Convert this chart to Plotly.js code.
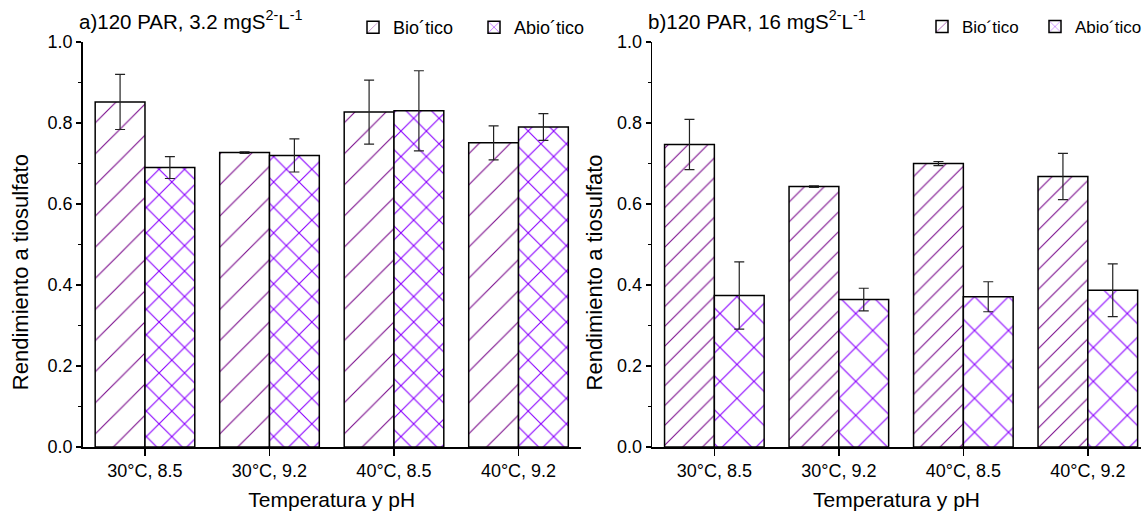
<!DOCTYPE html>
<html><head><meta charset="utf-8">
<script src="https://cdn.plot.ly/plotly-3.0.1.min.js"></script>
<style>html,body{margin:0;padding:0;background:#fff}#chart{width:1148px;height:514px}</style>
</head><body><div id="chart"></div>
<script>
const categories = ['30°C, 8.5', '30°C, 9.2', '40°C, 8.5', '40°C, 9.2'];
const seriesNames = ['Bio\u00B4tico', 'Abio\u00B4tico'];
const bioA = [0.852, 0.727, 0.827, 0.751];
const bioAErr = [0.068, 0.002, 0.079, 0.042];
const abioA = [0.690, 0.720, 0.830, 0.790];
const abioAErr = [0.027, 0.041, 0.099, 0.033];
const bioB = [0.747, 0.643, 0.700, 0.668];
const bioBErr = [0.062, 0.002, 0.005, 0.057];
const abioB = [0.374, 0.364, 0.371, 0.387];
const abioBErr = [0.083, 0.028, 0.037, 0.065];
const yTickVals = [0, 0.2, 0.4, 0.6, 0.8, 1.0];
const boundaryTicks = [-0.5, 0.5, 1.5, 2.5, 3.5];

const FONT = 'Liberation Sans, Arial, sans-serif';
const W = 1148, ML = 40, MT = 42, PH = 405;
const px = v => (v - ML) / (W - ML);
const py = v => (MT + PH - v) / PH;

function barTrace(y, err, name, shape, color, size, sol, xa, ya, leg) {
  return {
    type: 'bar', x: categories, y: y, name: name, xaxis: xa, yaxis: ya,
    legend: leg,
    marker: {
      color: 'white',
      line: {color: 'black', width: 1.5},
      pattern: {shape: shape, fgcolor: color, bgcolor: 'white', size: size, solidity: sol}
    },
    error_y: {type: 'data', array: err, visible: true, color: '#222', thickness: 1.2, width: 5},
    hoverinfo: 'x+y'
  };
}

const data = [
  barTrace(bioA, bioAErr, seriesNames[0], '/', '#7A0A8C', 22, 0.05, 'x', 'y', 'legend'),
  barTrace(abioA, abioAErr, seriesNames[1], 'x', '#8A00FF', 18, 0.12, 'x', 'y', 'legend'),
  barTrace(bioB, bioBErr, seriesNames[0], '/', '#7A0A8C', 14, 0.075, 'x2', 'y2', 'legend2'),
  barTrace(abioB, abioBErr, seriesNames[1], 'x', '#8A00FF', 24, 0.09, 'x2', 'y2', 'legend2')
];

const titleFont = {family: FONT, size: 21, color: 'black'};
const tickFont = {family: FONT, size: 18, color: 'black'};

function xAxis(anchor, domain, range) {
  return {
    type: 'category', categoryarray: categories, domain: domain, range: range,
    showline: true, linecolor: 'black', linewidth: 1.5,
    ticks: 'outside', ticklen: 7, tickwidth: 1.5, tickcolor: 'black',
    tickfont: tickFont, showgrid: false, zeroline: false, anchor: anchor, fixedrange: true,
    title: {text: 'Temperatura y pH', font: titleFont, standoff: 12}
  };
}
function minorAxis(over, anchor, domain, range) {
  return {
    type: 'linear', overlaying: over, domain: domain, range: range,
    tickmode: 'array', tickvals: boundaryTicks,
    ticks: 'outside', ticklen: 4, tickwidth: 1.5, tickcolor: 'black',
    showticklabels: false, showline: false, showgrid: false, zeroline: false,
    anchor: anchor, side: 'bottom', fixedrange: true
  };
}
function yAxis(anchor) {
  return {
    domain: [0, 1], range: [0, 1.0], anchor: anchor,
    tickmode: 'array', tickvals: yTickVals, tickformat: '.1f',
    showline: true, linecolor: 'black', linewidth: 1.5,
    ticks: 'outside', ticklen: 5, tickwidth: 1.5, tickcolor: 'black',
    minor: {ticks: 'outside', ticklen: 3, dtick: 0.1, tick0: 0, tickwidth: 1.5, tickcolor: 'black'},
    tickfont: tickFont, showgrid: false, zeroline: false, fixedrange: true
  };
}

const domA = [px(83), px(584.2)], domB = [px(656), 1];
const rangeA = [-0.5, 3.5], rangeB = [-0.5, 3.427];

const layout = {
  width: W, height: 514,
  margin: {l: ML, r: 0, t: MT, b: 514 - MT - PH},
  paper_bgcolor: 'white', plot_bgcolor: 'white',
  font: {family: FONT, color: 'black'},
  barmode: 'group', bargap: 0.2, bargroupgap: 0,
  xaxis: xAxis('y', domA, rangeA),
  xaxis2: xAxis('y2', domB, rangeB),
  xaxis3: minorAxis('x', 'y', domA, rangeA),
  xaxis4: minorAxis('x2', 'y2', domB, rangeB),
  yaxis: yAxis('x'),
  yaxis2: yAxis('x2'),
  legend: {
    orientation: 'h', x: px(355), xanchor: 'left', y: py(9), yanchor: 'top',
    font: {family: FONT, size: 18, color: 'black'}, bgcolor: 'rgba(0,0,0,0)',
    traceorder: 'normal', itemclick: false, itemdoubleclick: false, entrywidth: 76
  },
  legend2: {
    orientation: 'h', x: px(928), xanchor: 'left', y: py(9), yanchor: 'top',
    font: {family: FONT, size: 17, color: 'black'}, bgcolor: 'rgba(0,0,0,0)',
    traceorder: 'normal', itemclick: false, itemdoubleclick: false, entrywidth: 68
  },
  annotations: [
    {text: 'a)120 PAR, 3.2 mgS<sup>2-</sup>L<sup>-1</sup>', xref: 'paper', yref: 'paper',
     x: px(77), y: py(35), xanchor: 'left', yanchor: 'bottom', showarrow: false,
     font: {family: FONT, size: 20.5, color: 'black'}},
    {text: 'b)120 PAR, 16 mgS<sup>2-</sup>L<sup>-1</sup>', xref: 'paper', yref: 'paper',
     x: px(650), y: py(35), xanchor: 'left', yanchor: 'bottom', showarrow: false,
     font: {family: FONT, size: 20.5, color: 'black'}},
    {text: 'Rendimiento a tiosulfato', xref: 'paper', yref: 'paper', textangle: -90,
     x: px(20), y: py(272), xanchor: 'center', yanchor: 'middle', showarrow: false,
     font: {family: FONT, size: 22, color: 'black'}},
    {text: 'Rendimiento a tiosulfato', xref: 'paper', yref: 'paper', textangle: -90,
     x: px(598), y: py(272), xanchor: 'center', yanchor: 'middle', showarrow: false,
     font: {family: FONT, size: 22, color: 'black'}}
  ],
  showlegend: true
};

Plotly.newPlot('chart', data, layout, {displayModeBar: false, staticPlot: true});
</script>
</body></html>
